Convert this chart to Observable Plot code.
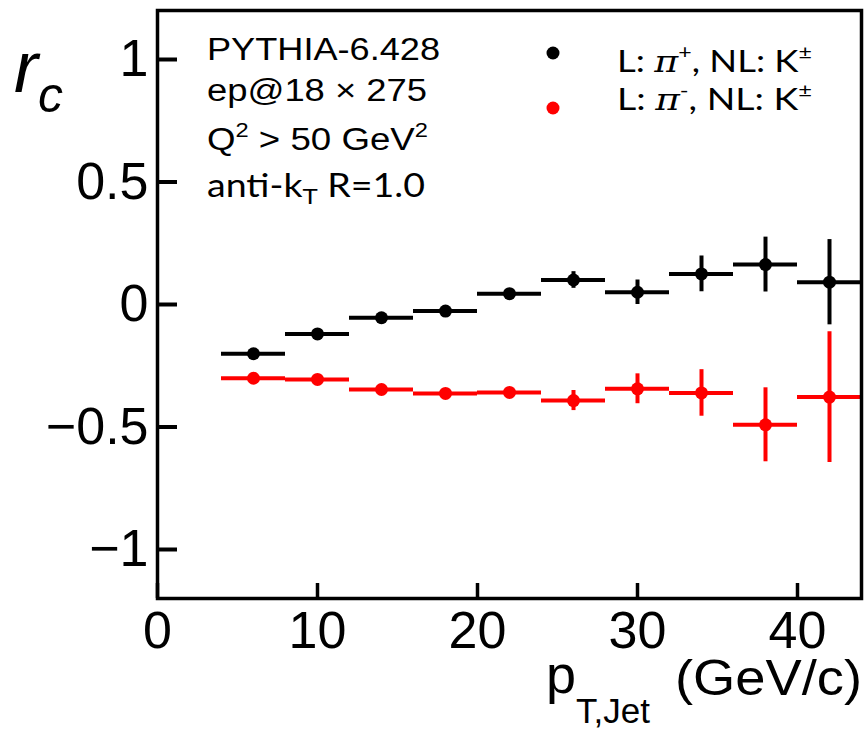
<!DOCTYPE html>
<html><head><meta charset="utf-8">
<script src="https://cdn.jsdelivr.net/npm/d3@7"></script>
<script src="https://cdn.jsdelivr.net/npm/@observablehq/plot@0.6"></script>
<style>body{margin:0;background:#fff}</style>
</head><body><div id="chart"></div>
<script>
const binLow = [4, 8, 12, 16, 20, 24, 28, 32, 36, 40];
const binHigh = [8, 12, 16, 20, 24, 28, 32, 36, 40, 44];
const binCenter = [6, 10, 14, 18, 22, 26, 30, 34, 38, 42];
const piPlusY = [-0.201, -0.120, -0.054, -0.027, 0.044, 0.100, 0.050, 0.125, 0.163, 0.091];
const piPlusErr = [0.006, 0.008, 0.010, 0.012, 0.014, 0.034, 0.050, 0.073, 0.112, 0.174];
const piMinusY = [-0.301, -0.306, -0.347, -0.363, -0.359, -0.392, -0.344, -0.361, -0.491, -0.378];
const piMinusErr = [0.006, 0.008, 0.010, 0.012, 0.014, 0.041, 0.061, 0.095, 0.151, 0.267];
const xTicks = [0, 10, 20, 30, 40];
const yTicks = [-1, -0.5, 0, 0.5, 1];
const yTickLabels = ["\u22121", "\u22120.5", "0", "0.5", "1"];

const W = 864, H = 733;
const mL = 157, mT = 10, mR = 3, mB = 135;
const innerW = W - mL - mR, innerH = H - mT - mB;

function rows(ys, errs) {
  return binCenter.map((x, i) => ({x, lo: binLow[i], hi: binHigh[i], y: ys[i], y1: ys[i] - errs[i], y2: ys[i] + errs[i]}));
}
const black = rows(piPlusY, piPlusErr);
const red = rows(piMinusY, piMinusErr);

function series(data, color) {
  return [
    Plot.ruleY(data, {y: "y", x1: "lo", x2: "hi", stroke: color, strokeWidth: 4}),
    Plot.ruleX(data, {x: "x", y1: "y1", y2: "y2", stroke: color, strokeWidth: 4}),
    Plot.dot(data, {x: "x", y: "y", r: 6.5, fill: color, stroke: "none"})
  ];
}

const chart = Plot.plot({
  width: W, height: H,
  marginLeft: mL, marginTop: mT, marginRight: mR, marginBottom: mB,
  style: {fontFamily: "Liberation Sans, Arial, sans-serif", color: "#000", background: "#fff"},
  x: {domain: [0, 44]},
  y: {domain: [-1.2, 1.2]},
  marks: [
    ...series(red, "#ff0000"),
    ...series(black, "#000000"),
    Plot.tickY(yTicks, {y: d => d, insetRight: innerW - 20, stroke: "#000", strokeWidth: 4}),
    Plot.tickX(xTicks, {x: d => d, insetTop: innerH - 15, stroke: "#000", strokeWidth: 3.5}),
    Plot.frame({stroke: "#000", strokeWidth: 3.5}),
    Plot.axisY({ticks: yTicks, tickFormat: d => yTickLabels[yTicks.indexOf(d)], tickSize: 0, tickPadding: 9, fontSize: 52, label: null}),
    Plot.axisX({ticks: xTicks, tickFormat: d => String(d), tickSize: 0, tickPadding: 13, fontSize: 52, label: null})
  ]
});
document.getElementById("chart").appendChild(chart);

const svg = d3.select(chart);
const g = svg.append("g").attr("class", "annotations").attr("fill", "#000").attr("text-anchor", "start");

function addText(x, y, parts, opts = {}) {
  const t = g.append("text").attr("x", x).attr("y", y)
    .attr("text-anchor", "start")
    .attr("font-family", opts.family || "Liberation Sans, Arial, sans-serif")
    .attr("font-size", opts.size || 30);
  if (opts.length) t.attr("textLength", opts.length).attr("lengthAdjust", "spacingAndGlyphs");
  let shift = 0;
  for (const p of parts) {
    const s = t.append("tspan").text(p.t);
    const target = p.dy || 0;
    if (target !== shift) { s.attr("dy", target - shift); shift = target; }
    if (p.size) s.attr("font-size", p.size);
    if (p.style) s.attr("font-style", p.style);
    if (p.family) s.attr("font-family", p.family);
  }
  return t;
}

// info block
addText(207, 60, [{t: "PYTHIA-6.428"}], {size: 31, length: 233});
addText(207, 101, [{t: "ep@18 \u00d7 275"}], {size: 31, length: 220});
addText(207, 150, [{t: "Q"}, {t: "2", size: 20, dy: -13}, {t: " > 50 GeV"}, {t: "2", size: 20, dy: -13}], {size: 31, length: 221});
addText(207, 197, [{t: "anti-k"}, {t: "T", size: 22, dy: 7}, {t: " R=1.0"}], {size: 32, family: "Lato, sans-serif", length: 218});

// legend
g.append("circle").attr("cx", 553).attr("cy", 53).attr("r", 6.5).attr("fill", "#000");
g.append("circle").attr("cx", 553).attr("cy", 108).attr("r", 6.5).attr("fill", "#ff0000");
addText(617, 72, [{t: "L: "}, {t: "\u03c0", family: "DejaVu Serif, serif", style: "italic"}, {t: "+", size: 19, dy: -13}, {t: ", NL: K"}, {t: "\u00b1", size: 19, dy: -13}], {size: 30, family: "Lato, sans-serif", length: 195});
addText(617, 110, [{t: "L: "}, {t: "\u03c0", family: "DejaVu Serif, serif", style: "italic"}, {t: "-", size: 19, dy: -13}, {t: ", NL: K"}, {t: "\u00b1", size: 19, dy: -13}], {size: 30, family: "Lato, sans-serif", length: 195});

// y label
addText(14, 92, [{t: "r", style: "italic"}, {t: "c", size: 50, style: "italic", dy: 20}], {size: 72});

// x label
addText(546, 693, [{t: "p"}, {t: "T,Jet", size: 35, dy: 30}], {size: 54});
addText(675, 695, [{t: "(GeV/c)"}], {size: 50, length: 187});
</script>
</body></html>
